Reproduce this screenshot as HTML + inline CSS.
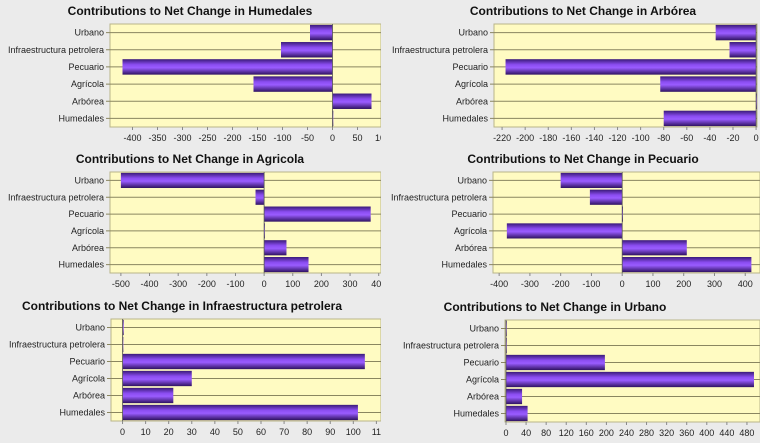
<!DOCTYPE html>
<html><head><meta charset="utf-8"><style>
body{margin:0;background:#ebebeb;width:760px;height:443px;overflow:hidden;font-family:"Liberation Sans",sans-serif}
svg{display:block}
</style></head><body>
<svg id="c" width="760" height="443">
<defs>
<linearGradient id="bg" x1="0" y1="0" x2="0" y2="1">
<stop offset="0" stop-color="#3a1a78"/><stop offset="0.35" stop-color="#8a4cf0"/><stop offset="0.55" stop-color="#9a5cff"/><stop offset="1" stop-color="#2e1260"/>
</linearGradient>
<clipPath id="leftclip"><rect x="0" y="0" width="381" height="443"/></clipPath>
</defs>
</svg>
<script>
const categories=["Urbano","Infraestructura petrolera","Pecuario","Agrícola","Arbórea","Humedales"];
const valuesHumedales=[-45,-103,-420,-158,78,0];
const valuesArborea=[-35,-23,-217,-83,0,-80];
const valuesAgricola=[-500,-30,372,0,78,155];
const valuesPecuario=[-200,-105,0,-375,210,420];
const valuesInfra=[0.5,0,105,30,22,102];
const valuesUrbano=[0,0,197,494,32,43];
const ticksHumedales=[-400,-350,-300,-250,-200,-150,-100,-50,0,50,100];
const ticksArborea=[-220,-200,-180,-160,-140,-120,-100,-80,-60,-40,-20,0];
const ticksAgricola=[-500,-400,-300,-200,-100,0,100,200,300,400];
const ticksPecuario=[-400,-300,-200,-100,0,100,200,300,400];
const ticksInfra=[0,10,20,30,40,50,60,70,80,90,100,110];
const ticksUrbano=[0,40,80,120,160,200,240,280,320,360,400,440,480,520];
const tickLabelsInfra=["0","10","20","30","40","50","60","70","80","90","100","11"];

const NS="http://www.w3.org/2000/svg";
const svg=document.getElementById('c');
function mk(t,a,p){const e=document.createElementNS(NS,t);for(const k in a)e.setAttribute(k,a[k]);(p||svg).appendChild(e);return e;}

const panels=[
 {title:"Contributions to Net Change in Humedales",vals:valuesHumedales,ticks:ticksHumedales,labels:null,x0:110,x1:381,y0:24,y1:127,min:-445,max:97,tx:190,name:"humedales",left:true},
 {title:"Contributions to Net Change in Arbórea",vals:valuesArborea,ticks:ticksArborea,labels:null,x0:494,x1:757,y0:24,y1:127,min:-227,max:0.8,tx:583,name:"arborea"},
 {title:"Contributions to Net Change in Agricola",vals:valuesAgricola,ticks:ticksAgricola,labels:null,x0:110,x1:381,y0:172,y1:273,min:-538,max:408,tx:190,name:"agricola",left:true},
 {title:"Contributions to Net Change in Pecuario",vals:valuesPecuario,ticks:ticksPecuario,labels:null,x0:493,x1:760,y0:172,y1:273,min:-420,max:448,tx:583,name:"pecuario"},
 {title:"Contributions to Net Change in Infraestructura petrolera",vals:valuesInfra,ticks:ticksInfra,labels:tickLabelsInfra,x0:111,x1:381,y0:319,y1:421,min:-5,max:112,tx:182,name:"infraestructura",left:true},
 {title:"Contributions to Net Change in Urbano",vals:valuesUrbano,ticks:ticksUrbano,labels:null,x0:505,x1:760,y0:320,y1:422,min:-2,max:506,tx:555,name:"urbano"}
];

panels.forEach(p=>{
 const g=mk('g',p.left?{'clip-path':'url(#leftclip)'}:{});
 
 
 const xs=v=>p.x0+(v-p.min)/(p.max-p.min)*(p.x1-p.x0);
 const rh=(p.y1-p.y0)/categories.length;
 const t=mk('text',{x:p.tx,y:p.y0-9,'text-anchor':'middle','font-size':'12','font-weight':'bold',fill:'#111'},g);
 t.textContent=p.title;
 
 
 const bgr=mk('rect',{x:p.x0,y:p.y0,width:p.x1-p.x0,height:p.y1-p.y0,fill:'#fffbc2',stroke:'#b8b48a','stroke-width':1},g);
 
 
 categories.forEach((c,i)=>{
  const cy=p.y0+rh*(i+0.5);
  mk('line',{x1:p.x0-4,x2:p.x1,y1:cy,y2:cy,stroke:'#8a8660','stroke-width':1},g);
  const l=mk('text',{x:p.x0-6,y:cy+3,'text-anchor':'end','font-size':'9',fill:'#222'},g);
  l.textContent=c;
  
  
 });
 p.vals.forEach((v,i)=>{
  const cy=p.y0+rh*(i+0.5);
  const a=xs(0),b=xs(v);
  const w=Math.max(Math.abs(b-a),0.8);
  const r=mk('rect',{x:Math.min(a,b),y:cy-rh*0.45,width:w,height:rh*0.9,fill:'url(#bg)'},g);
  
  
 });
 mk('line',{x1:xs(0),x2:xs(0),y1:p.y0,y2:p.y1,stroke:'#555','stroke-width':0.8},g);
 p.ticks.forEach((tv,i)=>{
  const x=xs(tv);
  if(x>760)return;
  mk('line',{x1:x,x2:x,y1:p.y1,y2:p.y1+3,stroke:'#888'},g);
  const tl=mk('text',{x:x,y:p.y1+14,'text-anchor':'middle','font-size':'9',fill:'#222'},g);
  tl.textContent=p.labels?p.labels[i]:String(tv);
  
  
 });
});
</script>
</body></html>
